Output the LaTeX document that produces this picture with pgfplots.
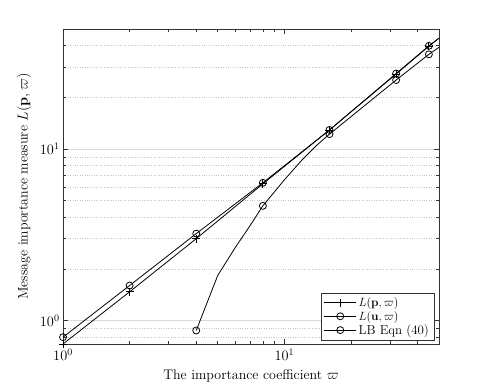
\documentclass[border=0pt]{standalone}
\usepackage{pgfplots}
\pgfplotsset{compat=1.18}
\begin{document}
\begin{tikzpicture}
\path[use as bounding box] (-63bp,-44bp) rectangle (422bp,344bp);
\begin{axis}[
    at={(0,0)}, anchor=south west,
    scale only axis,
    width=376bp, height=315bp,
    xmode=log, ymode=log,
    xmin=1, xmax=50,
    ymin=0.73, ymax=50,
    xtick={1,10}, ytick={1,10},
    minor xtick={2,3,4,5,6,7,8,9,20,30,40,50},
    minor ytick={0.8,0.9,2,3,4,5,6,7,8,9,20,30,40,50},
    ymajorgrids, yminorgrids,
    major grid style={gray!30, line width=0.5pt},
    minor grid style={gray!45, dotted, line width=0.5pt},
    tick align=inside,
    major tick length=5bp, minor tick length=3bp,
    axis line style={black!80, line width=0.6pt},
    tick style={black!80, line width=0.5pt},
    ticklabel style={font=\fontsize{14}{16}\selectfont},
    xticklabel style={yshift=-1.5bp},
    label style={font=\fontsize{14}{16}\selectfont},
    xlabel={The importance coefficient $\varpi$},
    ylabel={Message importance measure $L(\mathbf{p},\varpi)$},
    xlabel style={yshift=-2bp},
    ylabel style={yshift=2bp},
    legend style={at={(0.987,0.013)}, anchor=south east,
        font=\fontsize{13}{15}\selectfont, draw=black!80,
        cells={anchor=west}, row sep=-1pt},
    legend cell align=left,
    legend image code/.code={
        \draw[mark indices={2}] plot coordinates {(0bp,0bp) (16bp,0bp) (32bp,0bp)};
    },
]
% L(p, varpi)
\addplot[black, line width=0.8pt, mark=+, mark size=4bp,
    mark indices={1,2,3,4,5,6,7}] coordinates {
    (1,0.73) (2,1.47) (4,3.0) (8,6.26) (16,12.9) (32,27.3) (45,39.7) (50,44.2)
};
% L(u, varpi)
\addplot[black, line width=0.8pt, mark=o, mark size=3.5bp,
    mark indices={1,2,3,4,5,6,7}] coordinates {
    (1,0.80) (2,1.60) (4,3.21) (8,6.35) (16,12.9) (32,27.5) (45,39.9) (50,44.2)
};
% LB Eqn (40)
\addplot[black, line width=0.8pt, mark=o, mark size=3.5bp,
    mark indices={1,5,9,10,11}] coordinates {
    (4,0.875) (5,1.83) (6,2.66) (7,3.57) (8,4.66) (10,6.6) (12,8.6) (14,10.5)
    (16,12.2) (32,25.2) (45,35.6) (50,39.1)
};
\legend{{$L(\mathbf{p},\varpi)$}, {$L(\mathbf{u},\varpi)$}, {LB Eqn (40)}}
\end{axis}
\end{tikzpicture}
\end{document}
